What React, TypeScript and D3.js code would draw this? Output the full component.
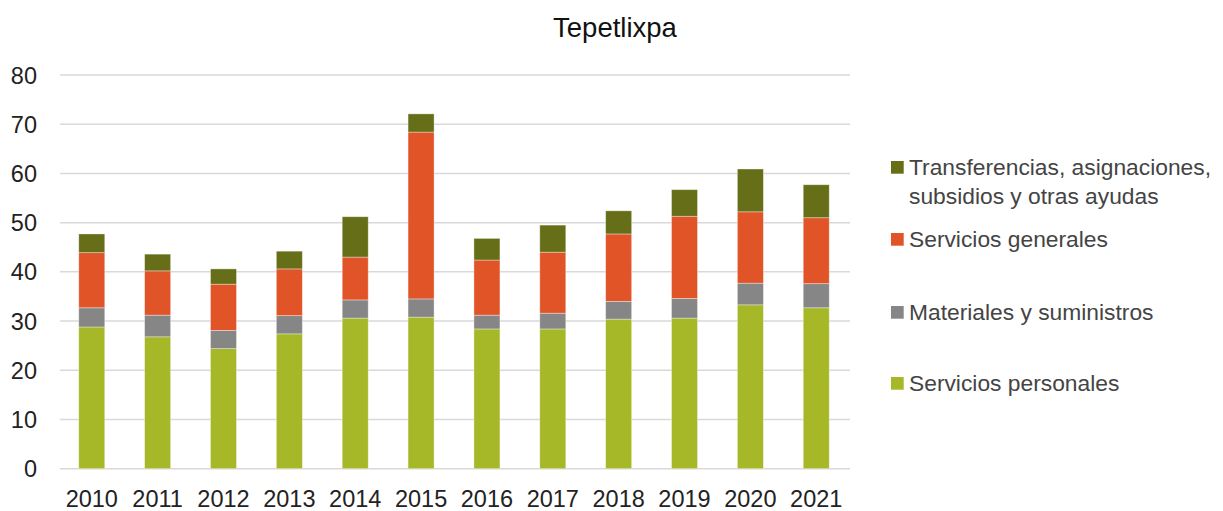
import React from "react";
import * as d3 from "d3";

const years = ["2010","2011","2012","2013","2014","2015","2016","2017","2018","2019","2020","2021"];
const serviciosPersonales = [28.8, 26.8, 24.4, 27.4, 30.6, 30.8, 28.4, 28.4, 30.4, 30.6, 33.3, 32.7];
const materialesSuministros = [3.9, 4.4, 3.7, 3.7, 3.7, 3.7, 2.8, 3.2, 3.6, 4.0, 4.4, 4.9];
const serviciosGenerales = [11.2, 9.0, 9.4, 9.5, 8.7, 33.9, 11.2, 12.4, 13.7, 16.7, 14.5, 13.4];
const transferencias = [3.8, 3.4, 3.1, 3.6, 8.2, 3.7, 4.4, 5.5, 4.7, 5.4, 8.7, 6.7];
const yTicks = [0, 10, 20, 30, 40, 50, 60, 70, 80];

const seriesNames = ["Servicios personales", "Materiales y suministros", "Servicios generales", "Transferencias"];
const seriesColors = ["#a6b727", "#868686", "#e05428", "#666f17"];

const legendItems = [
  { lines: ["Transferencias, asignaciones,", "subsidios y otras ayudas"], color: "#666f17", y: 175 },
  { lines: ["Servicios generales"], color: "#e05428", y: 247 },
  { lines: ["Materiales y suministros"], color: "#868686", y: 320 },
  { lines: ["Servicios personales"], color: "#a6b727", y: 391 },
];

export default function App() {
  const W = 1223, H = 511;
  const left = 59, right = 849, top = 75, bottom = 468.7;
  const x = d3.scaleBand().domain(years).range([left, right]).paddingInner(0.605).paddingOuter(0.3);
  const y = d3.scaleLinear().domain([0, 80]).range([bottom, top]);
  const rows = years.map((yr, i) => ({
    year: yr,
    [seriesNames[0]]: serviciosPersonales[i],
    [seriesNames[1]]: materialesSuministros[i],
    [seriesNames[2]]: serviciosGenerales[i],
    [seriesNames[3]]: transferencias[i],
  }));
  const stack = d3.stack<any>().keys(seriesNames)(rows);
  const font = "'Liberation Sans', Arial, sans-serif";
  return (
    <svg width={W} height={H} style={{ position: "absolute", left: 0, top: 0, background: "#fff" }} fontFamily={font}>
      <text x={615} y={37} textAnchor="middle" fontSize={27.5} fill="#111">Tepetlixpa</text>
      {yTicks.map(t => (
        <g key={t}>
          <line x1={60} x2={850} y1={y(t)} y2={y(t)} stroke="#d9d9d9" strokeWidth={1.5} />
          <text x={37} y={y(t) + 8.5} textAnchor="end" fontSize={23.5} fill="#222">{t}</text>
        </g>
      ))}
      {stack.map((s, si) => (
        <g key={si} fill={seriesColors[si]}>
          {s.map((d, i) => (
            <rect key={i} x={x(years[i])} width={x.bandwidth()} y={y(d[1])} height={y(d[0]) - y(d[1])}
              stroke="#ffffff" strokeOpacity={0.45} strokeWidth={0.8} />
          ))}
        </g>
      ))}
      {years.map(yr => (
        <text key={yr} x={(x(yr) as number) + x.bandwidth() / 2} y={507} textAnchor="middle" fontSize={23.5} fill="#222">{yr}</text>
      ))}
      {legendItems.map((it, i) => (
        <g key={i}>
          <rect x={891} y={it.y - 14} width={12.7} height={12.7} fill={it.color} />
          {it.lines.map((ln, j) => (
            <text key={j} x={909} y={it.y + j * 28.5} fontSize={22.8} fill="#444">{ln}</text>
          ))}
        </g>
      ))}
    </svg>
  );
}
